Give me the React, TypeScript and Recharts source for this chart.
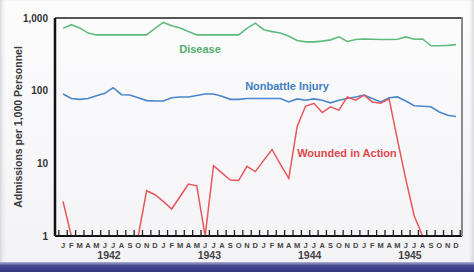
import React from 'react';
import { LineChart, Line, XAxis, YAxis, ReferenceLine } from 'recharts';

const years = [1942, 1943, 1944, 1945];
const monthLetters = ['J', 'F', 'M', 'A', 'M', 'J', 'J', 'A', 'S', 'O', 'N', 'D'];
const months = years.flatMap((y) => monthLetters.map((_, i) => `${y}-${i + 1}`));

const disease = [
  720, 810, 730, 620, 585, 585, 585, 585, 585, 585, 585, 720,
  870, 780, 730, 650, 585, 585, 585, 585, 585, 585, 720, 850,
  690, 650, 620, 560, 490, 470, 470, 480, 500, 550, 475, 505,
  515, 510, 505, 505, 510, 550, 510, 515, 415, 415, 420, 430,
];
const injury = [
  90, 78, 76, 78, 85, 92, 110, 88, 87, 80, 73, 72,
  72, 80, 82, 82, 86, 90, 90, 84, 76, 76, 78, 78,
  78, 78, 78, 70, 77, 74, 77, 74, 68, 74, 78, 82,
  87, 78, 70, 80, 82, 72, 62, 61, 60, 51, 46, 44,
];
const wounded = [
  3.0, 1, null, null, null, null, null, null, null, 1, 4.2, 3.7,
  3.0, 2.35, 3.5, 5.2, 4.9, 1, 9.3, 7.4, 5.9, 5.8, 9.1, 7.7,
  11, 15.5, 9.7, 6.2, 32, 61, 67, 50, 60, 54, 82, 74,
  87, 70, 67, 77, 21, 6, 1.9, 1, null, null, null, null,
];
const yTicks = [1, 10, 100, 1000];

const data = months.map((m, i) => ({
  month: m,
  disease: disease[i],
  injury: injury[i],
  wounded: wounded[i],
}));

const font = '"Liberation Sans", Arial, Helvetica, sans-serif';
const step = 8.36;

const MonthTick = (props: any) => {
  const { x, y, index } = props;
  const tx = x - step / 2;
  return (
    <g>
      <rect x={tx - 0.6} y={y - 6} width={1.3} height={5} fill="#222" />
      {index === 47 && <rect x={x + step / 2 - 0.6} y={y - 6} width={1.3} height={5} fill="#222" />}
      <text x={x} y={y + 12} textAnchor="middle" fontSize={7.5} fontWeight="bold" fill="#444" fontFamily={font}>
        {monthLetters[index % 12]}
      </text>
      {index % 12 === 5 && (
        <text x={x + step / 2} y={y + 23} textAnchor="middle" fontSize={10.5} fontWeight="bold" fill="#444" fontFamily={font}>
          {years[Math.floor(index / 12)]}
        </text>
      )}
    </g>
  );
};

const App: React.FC = () => {
  return (
    <div
      style={{
        position: 'relative',
        width: 474,
        height: 272,
        overflow: 'hidden',
        background: 'linear-gradient(180deg, #fcfcfd 0%, #f3f3f6 100%)',
        boxShadow: 'inset 4px 0 5px -3px #c8c8cc, inset -4px 0 5px -3px #c8c8cc',
      }}
    >
      <style>{'body{margin:0}'}</style>
      <LineChart width={474} height={262} data={data} margin={{ top: 18, right: 12, bottom: 0, left: 0 }}>
        <XAxis
          dataKey="month"
          interval={0}
          height={26}
          padding={{ left: 8, right: 6 }}
          tickLine={false}
          tickSize={0}
          tickMargin={0}
          axisLine={{ stroke: '#111', strokeWidth: 2 }}
          tick={<MonthTick />}
        />
        <YAxis
          scale="log"
          domain={[1, 1000]}
          ticks={yTicks}
          allowDataOverflow
          width={55}
          tickLine={false}
          tickSize={5}
          tickMargin={2}
          tickFormatter={(v: number) => v.toLocaleString('en-US')}
          axisLine={{ stroke: '#111', strokeWidth: 2.5 }}
          tick={{ fontSize: 10, fontWeight: 'bold', fill: '#333', fontFamily: font }}
          label={{
            value: 'Admissions per 1,000 Personnel',
            angle: -90,
            position: 'center',
            dx: -9,
            style: { fontSize: 10.5, fontWeight: 'bold', fill: '#3a3a3a', fontFamily: font },
          }}
        />
        <ReferenceLine y={1000} stroke="#555" strokeWidth={2} ifOverflow="visible" />
        <Line type="linear" dataKey="disease" stroke="#62b97d" strokeWidth={1.6} dot={false} isAnimationActive={false} />
        <Line type="linear" dataKey="injury" stroke="#4a86c9" strokeWidth={1.6} dot={false} isAnimationActive={false} />
        <Line type="linear" dataKey="wounded" stroke="#e8565a" strokeWidth={1.5} dot={false} isAnimationActive={false} />
      </LineChart>
      <div style={{ position: 'absolute', left: 461, top: 17, width: 2, height: 219, background: '#8a8a8a' }} />
      <svg width={474} height={272} style={{ position: 'absolute', left: 0, top: 0, pointerEvents: 'none' }}>
        <text x={200} y={53} textAnchor="middle" fontSize={11} fontWeight="bold" fill="#52ad6f" fontFamily={font}>
          Disease
        </text>
        <text x={287} y={90} textAnchor="middle" fontSize={11} fontWeight="bold" fill="#3f7fc4" fontFamily={font}>
          Nonbattle Injury
        </text>
        <text x={347} y={157} textAnchor="middle" fontSize={11} fontWeight="bold" fill="#e2474c" fontFamily={font}>
          Wounded in Action
        </text>
      </svg>
      <div
        style={{
          position: 'absolute',
          left: 0,
          top: 262,
          width: 474,
          height: 10,
          background: 'linear-gradient(180deg, #b3b4d6 0%, #474a8f 35%, #33367b 100%)',
        }}
      />
    </div>
  );
};

export default App;
